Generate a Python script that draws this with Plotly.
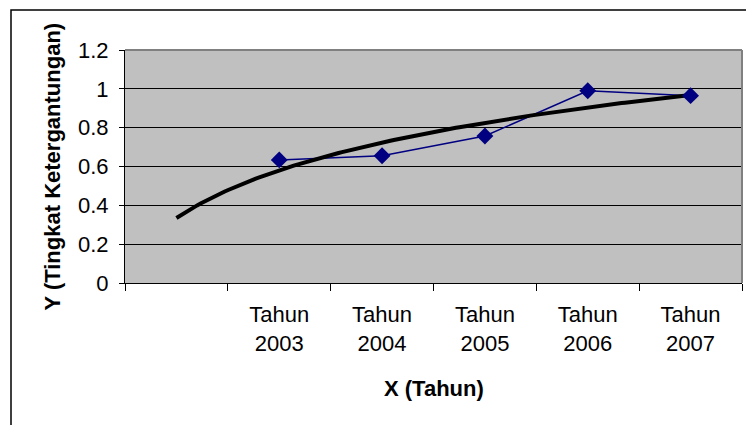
import numpy as np
import plotly.graph_objects as go

# Dependency level per year
years = ["2003", "2004", "2005", "2006", "2007"]
dependency = [0.634, 0.655, 0.757, 0.99, 0.965]
# category slots on the x axis: slot 1 is left empty, the years fill slots 2..6
slots = [2, 3, 4, 5, 6]
y_ticks = [0, 0.2, 0.4, 0.6, 0.8, 1.0, 1.2]
y_tick_text = ["0", "0.2", "0.4", "0.6", "0.8", "1", "1.2"]

# logarithmic trendline fitted to the series, drawn from slot 1 to slot 6
coef_a, coef_b = np.polyfit(np.log(slots), dependency, 1)
trend_x = np.linspace(1, 6, 150)
trend_y = coef_a * np.log(trend_x) + coef_b

FONT = "Liberation Sans, Arial, sans-serif"
NAVY = "#000080"
TICK_SIZE = 22

fig = go.Figure()
fig.add_trace(go.Scatter(x=slots, y=dependency, mode="lines",
                         line=dict(color=NAVY, width=1.5), hoverinfo="skip"))
fig.add_trace(go.Scatter(x=trend_x, y=trend_y, mode="lines",
                         line=dict(color="black", width=4)))
fig.add_trace(go.Scatter(x=slots, y=dependency, mode="markers",
                         marker=dict(symbol="diamond", size=13, color=NAVY,
                                     line=dict(width=0))))

W, H = 746, 425
L, R, T, B = 125, 4, 50, 142
pw, ph = W - L - R, H - T - B


def px_x(px):
    return (px - L) / pw


def px_y(py):
    return (H - B - py) / ph


fig.update_layout(
    width=W, height=H,
    margin=dict(l=L, r=R, t=T, b=B),
    paper_bgcolor="white",
    plot_bgcolor="#C0C0C0",
    showlegend=False,
    font=dict(family=FONT, color="black", size=TICK_SIZE),
    xaxis=dict(
        range=[0.5, 6.5], tickvals=slots,
        ticktext=["Tahun<br>" + y for y in years],
        ticks="", showgrid=False, zeroline=False,
        showline=True, linecolor="black", linewidth=1,
        tickfont=dict(size=TICK_SIZE, color="black"),
        ticklabelstandoff=12,
        minor=dict(tick0=0.5, dtick=1, ticks="outside", ticklen=7,
                   tickcolor="black", tickwidth=1, showgrid=False),
    ),
    yaxis=dict(
        range=[0, 1.2], tickvals=y_ticks, ticktext=y_tick_text,
        ticks="outside", ticklen=5, tickcolor="black",
        showgrid=True, gridcolor="black", gridwidth=1,
        zeroline=False, showline=True, linecolor="black", linewidth=1,
        tickfont=dict(size=TICK_SIZE, color="black"),
        ticklabelstandoff=6,
    ),
    shapes=[
        # chart frame
        dict(type="rect", xref="paper", yref="paper",
             x0=px_x(11), x1=px_x(760), y0=px_y(10), y1=px_y(440),
             line=dict(color="black", width=1.5), fillcolor="rgba(0,0,0,0)",
             layer="above"),
        # plot area border (top and right)
        dict(type="line", xref="paper", yref="paper", x0=0, x1=1, y0=1, y1=1,
             line=dict(color="#808080", width=2), layer="above"),
        dict(type="line", xref="paper", yref="paper", x0=1, x1=1, y0=0, y1=1,
             line=dict(color="#808080", width=2), layer="above"),
    ],
    annotations=[
        dict(text="<b>X (Tahun)</b>", xref="paper", yref="paper",
             x=0.5, y=px_y(389), xanchor="center", yanchor="middle",
             showarrow=False, font=dict(size=22, family=FONT)),
        dict(text="<b>Y (Tingkat Ketergantungan)</b>", xref="paper", yref="paper",
             x=px_x(52), y=0.5, xanchor="center", yanchor="middle",
             textangle=-90, showarrow=False, font=dict(size=22, family=FONT)),
    ],
)

fig.write_html("out.html")
